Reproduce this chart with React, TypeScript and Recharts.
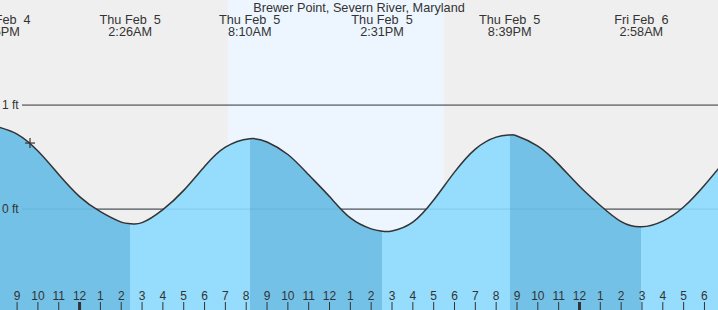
import React from 'react';
import { AreaChart, Area, XAxis, YAxis, ReferenceArea, ReferenceLine, ReferenceDot } from 'recharts';

// hours since midnight Thu Feb 5, tide height in ft
const times = [-3.92, -3, -2, -1, 0, 1, 2, 2.43, 3, 4, 5, 6, 7, 8.17, 9, 10, 11, 12, 13, 14, 14.52, 15, 16, 17, 18, 19, 20, 20.65, 21, 22, 23, 24, 25, 26, 26.97, 28, 29, 30, 31];
const heights = [0.79, 0.72, 0.558, 0.332, 0.12, -0.025, -0.125, -0.14, -0.13, -0.005, 0.18, 0.41, 0.595, 0.676, 0.645, 0.525, 0.33, 0.12, -0.085, -0.19, -0.212, -0.21, -0.125, 0.087, 0.355, 0.577, 0.692, 0.712, 0.703, 0.605, 0.43, 0.22, 0.035, -0.12, -0.17, -0.115, 0.02, 0.23, 0.47];

// high / low tide events
const eventTimes = [-3.92, 2.43, 8.17, 14.52, 20.65, 26.97];
const eventDays = ['Wed Feb  4', 'Thu Feb  5', 'Thu Feb  5', 'Thu Feb  5', 'Thu Feb  5', 'Fri Feb  6'];
const eventLabels = ['8:05PM', '2:26AM', '8:10AM', '2:31PM', '8:39PM', '2:58AM'];

const hourTicks = Array.from({ length: 34 }, (_, i) => i - 3);
const viewStart = -3.82; // 8:11PM Feb 4
const viewEnd = 30.65; // 6:39AM Feb 6
const sunrise = 7.12;
const sunset = 17.5;
const nowTime = -2.38;
const nowHeight = 0.635;

const data = times.map((t, i) => ({ t, h: heights[i] }));

const FONT = '"Liberation Sans", Arial, sans-serif';
const TEXT = '#333';
const DARK = '#73C1E6';
const LIGHT = '#96DCFC';

// band stops: falling tide dark, rising tide light
const t0 = times[0];
const tN = times[times.length - 1];
const stops: { offset: number; color: string }[] = [];
eventTimes.forEach((et, i) => {
  const off = (et - t0) / (tN - t0);
  const before = i % 2 === 0 ? LIGHT : DARK;
  const after = i % 2 === 0 ? DARK : LIGHT;
  stops.push({ offset: off, color: before }, { offset: off, color: after });
});

const hourLabel = (h: number) => {
  const v = ((h % 12) + 12) % 12;
  return v === 0 ? '12' : String(v);
};

const HourTick = (props: any) => {
  const { x, payload } = props;
  const h = payload.value;
  const midnight = ((h % 24) + 24) % 24 === 0;
  return (
    <g>
      <line x1={x} x2={x} y1={302} y2={310} stroke={TEXT} strokeWidth={midnight ? 3 : 1} />
      <text x={x} y={296} textAnchor="middle" dominantBaseline="central" fontFamily={FONT} fontSize={12} fill={TEXT}>
        {hourLabel(h)}
      </text>
    </g>
  );
};

const EventTick = (props: any) => {
  const { x, index } = props;
  return (
    <g fontFamily={FONT} fontSize={12.7} fill={TEXT}>
      <text x={x} y={20} textAnchor="middle" dominantBaseline="central" style={{ whiteSpace: 'pre' }}>
        {eventDays[index]}
      </text>
      <text x={x} y={32} textAnchor="middle" dominantBaseline="central">
        {eventLabels[index]}
      </text>
    </g>
  );
};

// dark level line, sits under the water
const levelLine = (props: any) => {
  const { x1, y1, x2 } = props;
  return <line x1={x1 + 22} x2={x2} y1={y1} y2={y1} stroke={TEXT} strokeWidth={1} />;
};

// label plus faint line over the water
const levelLabel = (label: string, faint: boolean) => (props: any) => {
  const { x1, y1, x2 } = props;
  return (
    <g>
      <text x={x1 + 2} y={y1} dominantBaseline="central" fontFamily={FONT} fontSize={12} fill={TEXT}>
        {label}
      </text>
      {faint && <line x1={x1 + 22} x2={x2} y1={y1} y2={y1} stroke="rgba(30,100,150,0.14)" strokeWidth={1} />}
    </g>
  );
};

const Plus = (props: any) => {
  const { cx, cy } = props;
  return (
    <g stroke={TEXT} strokeWidth={1.2}>
      <line x1={cx - 5} x2={cx + 5} y1={cy} y2={cy} />
      <line x1={cx} x2={cx} y1={cy - 5} y2={cy + 5} />
    </g>
  );
};

const App = () => {
  return (
    <div style={{ position: 'absolute', left: 0, top: 0, width: 718, height: 310, background: '#EFEFEF', overflow: 'hidden' }}>
      <AreaChart width={718} height={310} data={data} margin={{ top: 0, right: 0, bottom: 0, left: 0 }}>
        <defs>
          <linearGradient id="tideBands" x1="0" y1="0" x2="1" y2="0">
            {stops.map((s, i) => (
              <stop key={i} offset={s.offset} stopColor={s.color} />
            ))}
          </linearGradient>
        </defs>
        <XAxis
          dataKey="t"
          type="number"
          domain={[viewStart, viewEnd]}
          allowDataOverflow
          ticks={hourTicks}
          mirror
          axisLine={false}
          tickLine={false}
          tick={<HourTick />}
          interval={0}
        />
        <XAxis
          xAxisId="top"
          dataKey="t"
          type="number"
          orientation="top"
          domain={[viewStart, viewEnd]}
          allowDataOverflow
          ticks={eventTimes}
          mirror
          axisLine={false}
          tickLine={false}
          tick={<EventTick />}
          interval={0}
        />
        <YAxis hide width={0} domain={[-0.97, 2.01]} allowDataOverflow />
        <ReferenceArea x1={sunrise} x2={sunset} fill="#EDF6FE" fillOpacity={1} stroke="none" zIndex={-90} />
        <ReferenceLine y={1} shape={levelLine} zIndex={-50} />
        <ReferenceLine y={0} shape={levelLine} zIndex={-50} />
        <Area
          type="natural"
          dataKey="h"
          baseValue={-0.97}
          stroke="#333"
          strokeWidth={1.5}
          fill="url(#tideBands)"
          fillOpacity={1}
          isAnimationActive={false}
          dot={false}
          activeDot={false}
        />
        <ReferenceLine y={1} shape={levelLabel('1 ft', false)} zIndex={800} />
        <ReferenceLine y={0} shape={levelLabel('0 ft', true)} zIndex={800} />
        <ReferenceDot x={nowTime} y={nowHeight} shape={<Plus />} zIndex={900} />
      </AreaChart>
      <div
        style={{
          position: 'absolute',
          top: 0,
          left: 0,
          width: 718,
          textAlign: 'center',
          fontFamily: FONT,
          fontSize: 12.7,
          lineHeight: '16px',
          color: TEXT,
        }}
      >
        Brewer Point, Severn River, Maryland
      </div>
    </div>
  );
};

export default App;
